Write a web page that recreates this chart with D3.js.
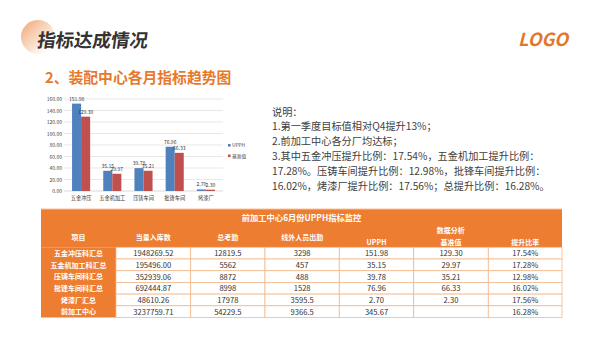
<!DOCTYPE html>
<html><head><meta charset="utf-8">
<script src="https://cdn.jsdelivr.net/npm/d3@7"></script>
<style>
html,body{margin:0;padding:0;background:#fff;}
svg{display:block;}
text{font-family:"Noto Sans CJK SC","Noto Sans",sans-serif;}
</style></head>
<body>
<svg id="c" width="600" height="338"></svg>
<script>
const categories = ["五金冲压","五金机加工","压铸车间","批锋车间","烤漆厂"];
const seriesNames = ["UPPH","基准值"];
const upph = [151.98, 35.15, 39.78, 76.96, 2.70];
const baseline = [129.30, 29.97, 35.21, 66.33, 2.30];
const yTicks = [0,20,40,60,80,100,120,140,160];

const noteLines = [
  "说明：",
  "1.第一季度目标值相对Q4提升13%；",
  "2.前加工中心各分厂均达标；",
  "3.其中五金冲压提升比例：17.54%，五金机加工提升比例：",
  "17.28%。压铸车间提升比例：12.98%，批锋车间提升比例：",
  "16.02%，烤漆厂提升比例：17.56%；总提升比例：16.28%。"
];

const tableTitle = "前加工中心6月份UPPH指标监控";
const tableHeaders = ["项目","当量入库数","总考勤","线外人员出勤","UPPH","基准值","提升比率"];
const groupHeader = "数据分析";
const rowNames = ["五金冲压科汇总","五金机加工科汇总","压铸车间科汇总","批锋车间科汇总","烤漆厂汇总","前加工中心"];
const colStock = ["1948269.52","195496.00","352939.06","692444.87","48610.26","3237759.71"];
const colAttend = ["12819.5","5562","8872","8998","17978","54229.5"];
const colOutside = ["3298","457","488","1528","3595.5","9366.5"];
const colUpph = ["151.98","35.15","39.78","76.96","2.70","345.67"];
const colBase = ["129.30","29.97","35.21","66.33","2.30",""];
const colRate = ["17.54%","17.28%","12.98%","16.02%","17.56%","16.28%"];

const svg = d3.select("#c");
const ORANGE = "#ED7D31";
const BLUE = "#4F81BD", RED = "#C0504D";

// header decoration
const defs = svg.append("defs");
const g1 = defs.append("linearGradient").attr("id","cg").attr("x1","0").attr("y1","0").attr("x2","1").attr("y2","1");
g1.append("stop").attr("offset","0").attr("stop-color","#EE9A62").attr("stop-opacity",0.95);
g1.append("stop").attr("offset","0.55").attr("stop-color","#F6C9A8").attr("stop-opacity",0.6);
g1.append("stop").attr("offset","1").attr("stop-color","#fff").attr("stop-opacity",0);
svg.append("circle").attr("cx",38).attr("cy",37).attr("r",17).attr("fill","url(#cg)");

svg.append("text").attr("x",37).attr("y",47).attr("font-size",18.5).attr("font-weight","bold")
  .attr("fill","#333").attr("transform","skewX(-8) translate(6,0)").text("指标达成情况");

svg.append("text").attr("x",518).attr("y",46).attr("font-size",18).attr("font-weight","bold")
  .attr("font-style","italic").attr("font-family","DejaVu Sans").attr("fill","#E2772A")
  .attr("textLength",50).attr("lengthAdjust","spacingAndGlyphs").text("LOGO");

svg.append("text").attr("x",45).attr("y",82.5).attr("font-size",14.8).attr("font-weight","bold")
  .attr("fill","#E8792C").text("2、装配中心各月指标趋势图");

// chart
const x = d3.scaleBand().domain(categories).range([65.5,221.5]).paddingInner(0.42).paddingOuter(0.21);
const xs = d3.scaleBand().domain(seriesNames).range([0, x.bandwidth()]);
const y = d3.scaleLinear().domain([0,160]).range([191,99]);

const chart = svg.append("g");
chart.selectAll("line.grid").data(yTicks).join("line").attr("class","grid")
  .attr("x1",64).attr("x2",223).attr("y1",d=>y(d)).attr("y2",d=>y(d))
  .attr("stroke",d=>d===0?"#bfbfbf":"#d9d9d9").attr("stroke-width",0.6);

const yAxis = d3.axisLeft(y).tickValues(yTicks).tickFormat(d3.format(".2f")).tickSize(0).tickPadding(2);
const ya = chart.append("g").attr("transform","translate(64,0)").call(yAxis);
ya.select(".domain").remove();
ya.selectAll("text").attr("font-size",5).attr("fill","#444").attr("font-family","Liberation Sans");

const xAxis = d3.axisBottom(x).tickSize(0).tickPadding(5);
const xa = chart.append("g").attr("transform","translate(0,191)").call(xAxis);
xa.select(".domain").remove();
xa.selectAll("text").attr("font-size",5.2).attr("fill","#333");

const seriesData = [upph, baseline];
const colors = [BLUE, RED];
seriesData.forEach((vals, si) => {
  const name = seriesNames[si];
  chart.selectAll("rect.s"+si).data(vals).join("rect").attr("class","s"+si)
    .attr("x",(d,i)=>x(categories[i])+xs(name)).attr("width",xs.bandwidth())
    .attr("y",d=>y(d)).attr("height",d=>y(0)-y(d)).attr("fill",colors[si]);
});
seriesData.forEach((vals, si) => {
  const name = seriesNames[si];
  chart.selectAll("text.l"+si).data(vals).join("text").attr("class","l"+si)
    .attr("x",(d,i)=>x(categories[i])+xs(name)+xs.bandwidth()/2)
    .attr("y",d=>y(d)-3).attr("text-anchor","middle").attr("font-size",5)
    .attr("font-family","Liberation Sans").attr("fill","#333").text(d=>d3.format(".2f")(d));
});

// legend
const lg = svg.append("g");
seriesNames.forEach((n,i)=>{
  lg.append("rect").attr("x",228).attr("y",144+i*10.5).attr("width",2.6).attr("height",2.6).attr("fill",colors[i]);
  lg.append("text").attr("x",232).attr("y",147+i*10.5).attr("font-size",4.8).attr("fill","#444").text(n);
});

// notes
svg.append("g").selectAll("text").data(noteLines).join("text")
  .attr("x",272).attr("y",(d,i)=>115.5+i*14.9).attr("font-size",10.2).attr("fill","#404040").text(d=>d);

// table
const tx0 = 41, tx1 = 562;
const colEdges = [41,116,190.7,265,339.3,413.7,488.3,562];
const tTop = 209, hdrTop = 226, dataTop = 247.3, rowH = 11.7;
const tbl = svg.append("g");
tbl.append("rect").attr("x",tx0).attr("y",tTop).attr("width",tx1-tx0).attr("height",dataTop-tTop).attr("fill",ORANGE);
tbl.append("rect").attr("x",tx0).attr("y",dataTop).attr("width",colEdges[1]-tx0).attr("height",rowH*rowNames.length).attr("fill",ORANGE);
tbl.append("line").attr("x1",tx0).attr("x2",tx1).attr("y1",tTop).attr("y2",tTop).attr("stroke","#F6C29C").attr("stroke-width",1);

tbl.append("text").attr("x",(tx0+tx1)/2).attr("y",tTop+12).attr("text-anchor","middle")
  .attr("font-size",8.3).attr("font-weight","bold").attr("fill","#fff").text(tableTitle);

const colCenter = i => (colEdges[i]+colEdges[i+1])/2;
tableHeaders.forEach((h,i)=>{
  tbl.append("text").attr("x",colCenter(i)).attr("y", i<4 ? 240 : 245).attr("text-anchor","middle")
    .attr("font-size",7).attr("font-weight","bold").attr("fill","#fff").text(h);
});
tbl.append("text").attr("x",(colEdges[4]+colEdges[7])/2).attr("y",233).attr("text-anchor","middle")
  .attr("font-size",7).attr("font-weight","bold").attr("fill","#fff").text(groupHeader);

const cols = [colStock,colAttend,colOutside,colUpph,colBase,colRate];
rowNames.forEach((r,ri)=>{
  const yy = dataTop + ri*rowH;
  tbl.append("text").attr("x",colCenter(0)).attr("y",yy+8.6).attr("text-anchor","middle")
    .attr("font-size",7).attr("font-weight","bold").attr("fill","#fff").text(r);
  cols.forEach((c,ci)=>{
    tbl.append("rect").attr("x",colEdges[ci+1]).attr("y",yy).attr("width",colEdges[ci+2]-colEdges[ci+1]).attr("height",rowH)
      .attr("fill","#fff").attr("stroke","#F2B88C").attr("stroke-width",0.8);
    tbl.append("text").attr("x",colCenter(ci+1)).attr("y",yy+8.8).attr("text-anchor","middle")
      .attr("font-size",7.6).attr("font-family","Liberation Sans").attr("fill","#333").text(c[ri]);
  });
});
</script>
</body></html>
